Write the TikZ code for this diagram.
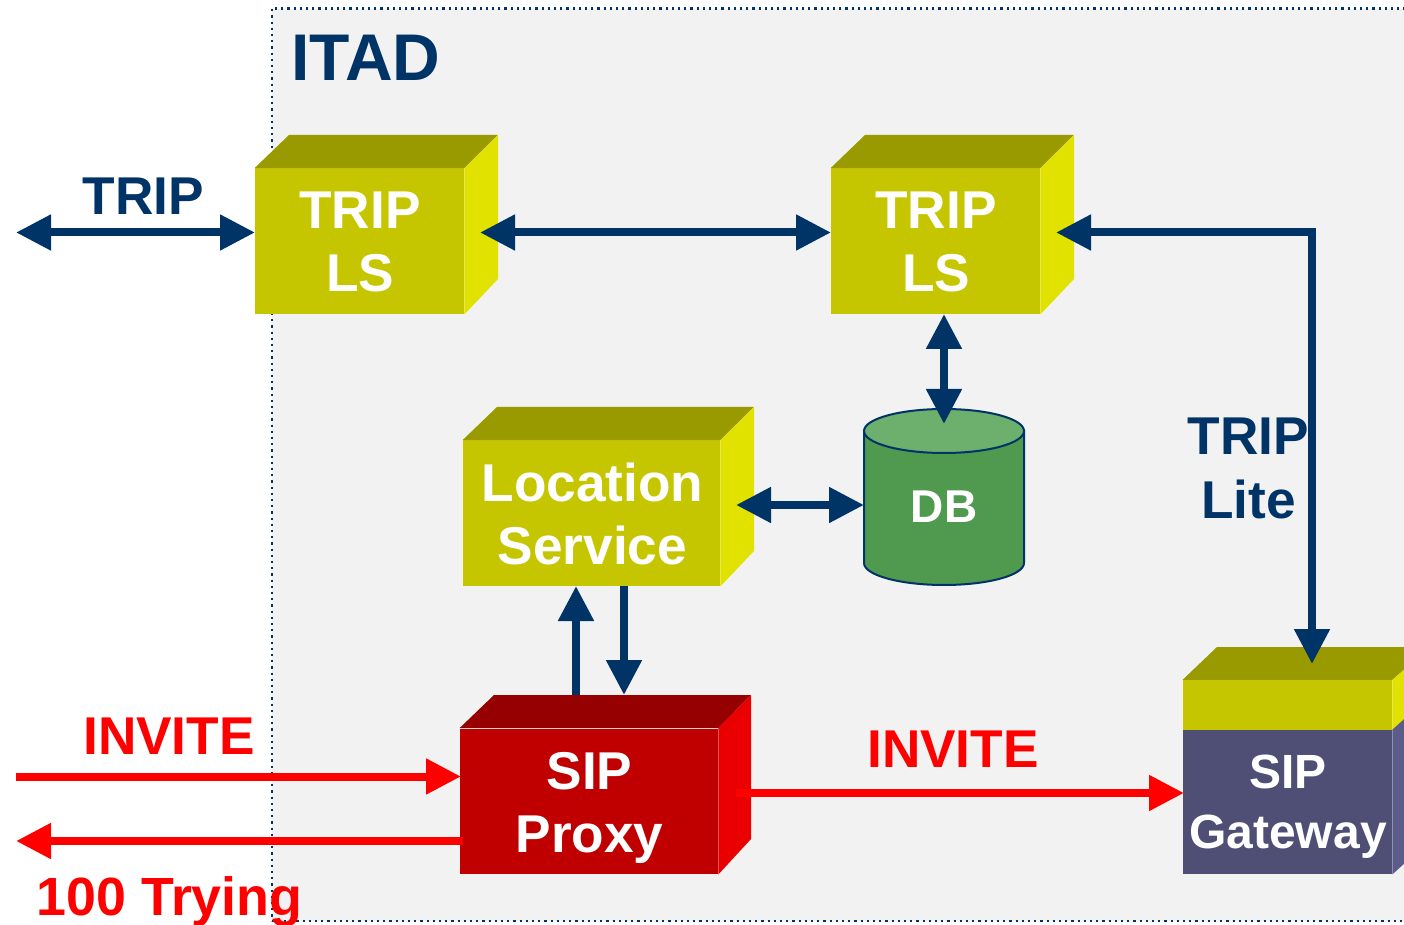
\documentclass[tikz,border=0pt]{standalone}
\usepackage{fontspec}
\setmainfont{Liberation Sans}
\usetikzlibrary{arrows.meta}
\definecolor{navy}{HTML}{003366}
\definecolor{oliveT}{HTML}{999900}
\definecolor{oliveF}{HTML}{C6C600}
\definecolor{oliveS}{HTML}{E2E200}
\definecolor{redT}{HTML}{960000}
\definecolor{redF}{HTML}{C00000}
\definecolor{redS}{HTML}{EA0000}
\definecolor{purF}{HTML}{4F4F75}
\definecolor{purS}{HTML}{5C5C8A}
\definecolor{dbF}{HTML}{4F9A4F}
\definecolor{dbT}{HTML}{6DAF6D}
\definecolor{redL}{HTML}{FF0000}
\tikzset{
  facebox/.style={inner sep=0pt},
  front/.style={inner sep=0pt,align=center,text=white,font=\fontsize{26.6}{31.6}\selectfont\bfseries},
  nvarrow/.style={draw=navy,line width=4pt},
  rdarrow/.style={draw=redL,line width=4pt},
  nvhead/.style={-{Triangle[length=17.5pt,width=17pt,color=navy]}},
  nvboth/.style={{Triangle[length=17.5pt,width=17pt,color=navy]}-{Triangle[length=17.5pt,width=17pt,color=navy]}},
  rdhead/.style={-{Triangle[length=17.5pt,width=17pt,color=redL]}},
  lblnavy/.style={inner sep=0pt,text=navy,font=\fontsize{26.6}{31.6}\selectfont\bfseries,align=center},
  lblred/.style={inner sep=0pt,text=redL,font=\fontsize{26.6}{31.6}\selectfont\bfseries,align=center},
}
\begin{document}
\begin{tikzpicture}[x=0.5pt,y=-0.5pt]
\clip (0,0) rectangle (1404,925);
\fill[white] (0,0) rectangle (1404,925);
\node[inner sep=0pt,fill=black!5,draw=navy,line width=1.1pt,dotted,minimum width=660pt,minimum height=456pt,anchor=north west] (itad) at (270.5,7.5) {};
\node[anchor=west,inner sep=0pt,text=navy,font=\fontsize{33}{38}\selectfont\bfseries] (itadlabel) at (291,58) {ITAD};

% TRIP LS left
\node[facebox,fill=oliveF,minimum width=104.5pt,minimum height=72.75pt] (ls1) at (359.5,241.25) {};
\fill[oliveT] (ls1.north west) -- (289,135) -- (498,135) -- (ls1.north east) -- cycle;
\fill[oliveS] (ls1.north east) -- (498,135) -- (498,279) -- (ls1.south east) -- cycle;
\node[front] (ls1text) at (360,242) {TRIP\\LS};

% TRIP LS right
\node[facebox,fill=oliveF,minimum width=104.5pt,minimum height=72.75pt] (ls2) at (935.5,241.25) {};
\fill[oliveT] (ls2.north west) -- (865,135) -- (1074,135) -- (ls2.north east) -- cycle;
\fill[oliveS] (ls2.north east) -- (1074,135) -- (1074,279) -- (ls2.south east) -- cycle;
\node[front] (ls2text) at (936,242) {TRIP\\LS};

% Location Service
\node[facebox,fill=oliveF,minimum width=128.5pt,minimum height=72.75pt] (loc) at (591.5,513.25) {};
\fill[oliveT] (loc.north west) -- (497,407) -- (754,407) -- (loc.north east) -- cycle;
\fill[oliveS] (loc.north east) -- (754,407) -- (754,551) -- (loc.south east) -- cycle;
\node[front] (loctext) at (592.5,514) {Location\\Service};

% SIP Proxy
\node[facebox,fill=redF,minimum width=129pt,minimum height=72.75pt] (proxy) at (589,801.25) {};
\fill[redT] (proxy.north west) -- (494,695) -- (751,695) -- (proxy.north east) -- cycle;
\fill[redS] (proxy.north east) -- (751,695) -- (751,839) -- (proxy.south east) -- cycle;
\node[front] (proxytext) at (589.5,808) {SIP\\Proxy};

% SIP Gateway
\node[facebox,fill=oliveF,minimum width=104.5pt,minimum height=25pt] (gwtop) at (1287.5,705.25) {};
\node[facebox,fill=purF,minimum width=104.5pt,minimum height=72pt] (gw) at (1287.5,802) {};
\fill[oliveT] (gwtop.north west) -- (1217,647) -- (1430,647) -- (gwtop.north east) -- cycle;
\fill[oliveS] (gwtop.north east) -- (1430,647) -- (1430,696) -- (gwtop.south east) -- cycle;
\fill[purS] (gw.north east) -- (1430,696) -- (1430,840) -- (gw.south east) -- cycle;
\node[front,font=\fontsize{24}{30}\selectfont\bfseries] (gwtext) at (1288,807) {SIP\\Gateway};

% DB
\path[fill=dbF,draw=navy,line width=1pt] (864,431) -- (864,563) arc[start angle=180,end angle=360,x radius=80,y radius=-22] -- (1024,431) -- cycle;
\path[fill=dbT,draw=navy,line width=1pt] (944,431) ellipse[x radius=80,y radius=22];
\node[inner sep=0pt,text=white,font=\fontsize{23}{28}\selectfont\bfseries] (db) at (944,507) {DB};

% free ends
\coordinate (tl) at (16,232.5);
\coordinate (tr) at (255,232.5);
\coordinate (ls1r) at (480,232.5);
\coordinate (ls2l) at (831,232.5);
\coordinate (ls2r) at (1056,232.5);
\coordinate (corner) at (1312,232.5);
\coordinate (gwt) at (1312,664);
\coordinate (ls2b) at (944,314);
\coordinate (dbt) at (944,424);
\coordinate (locr) at (736,505);
\coordinate (dbl) at (864,505);
\coordinate (pu) at (576,695);
\coordinate (lu) at (576,586);
\coordinate (ld) at (624,586);
\coordinate (pd) at (624,695);
\coordinate (inl) at (16,776.5);
\coordinate (inr) at (461,776.5);
\coordinate (try) at (463,841);
\coordinate (tryl) at (16,841);
\coordinate (outl) at (736,793);
\coordinate (outr) at (1184,793);

% connectors
\draw[nvarrow,nvboth] (tl) -- (tr);
\draw[nvarrow,nvboth] (ls1r) -- (ls2l);
\draw[nvarrow,nvboth,line join=miter] (ls2r) -- (corner) -- (gwt);
\draw[nvarrow,nvboth] (ls2b) -- (dbt);
\draw[nvarrow,nvboth] (locr) -- (dbl);
\draw[nvarrow,nvhead] (pu) -- (lu);
\draw[nvarrow,nvhead] (ld) -- (pd);
\draw[rdarrow,rdhead] (inl) -- (inr);
\draw[rdarrow,rdhead] (try) -- (tryl);
\draw[rdarrow,rdhead] (outl) -- (outr);

% labels
\node[lblnavy] (ltrip) at (143.5,196) {TRIP};
\node[lblnavy] (ltl) at (1248.5,468.5) {TRIP\\Lite};
\node[lblred] (linv) at (169,736.5) {INVITE};
\node[lblred] (linv2) at (953,749.5) {INVITE};
\node[lblred,anchor=west,font=\fontsize{26.9}{31.6}\selectfont\bfseries] (l100) at (36,902) {100 Trying};
\end{tikzpicture}
\end{document}
